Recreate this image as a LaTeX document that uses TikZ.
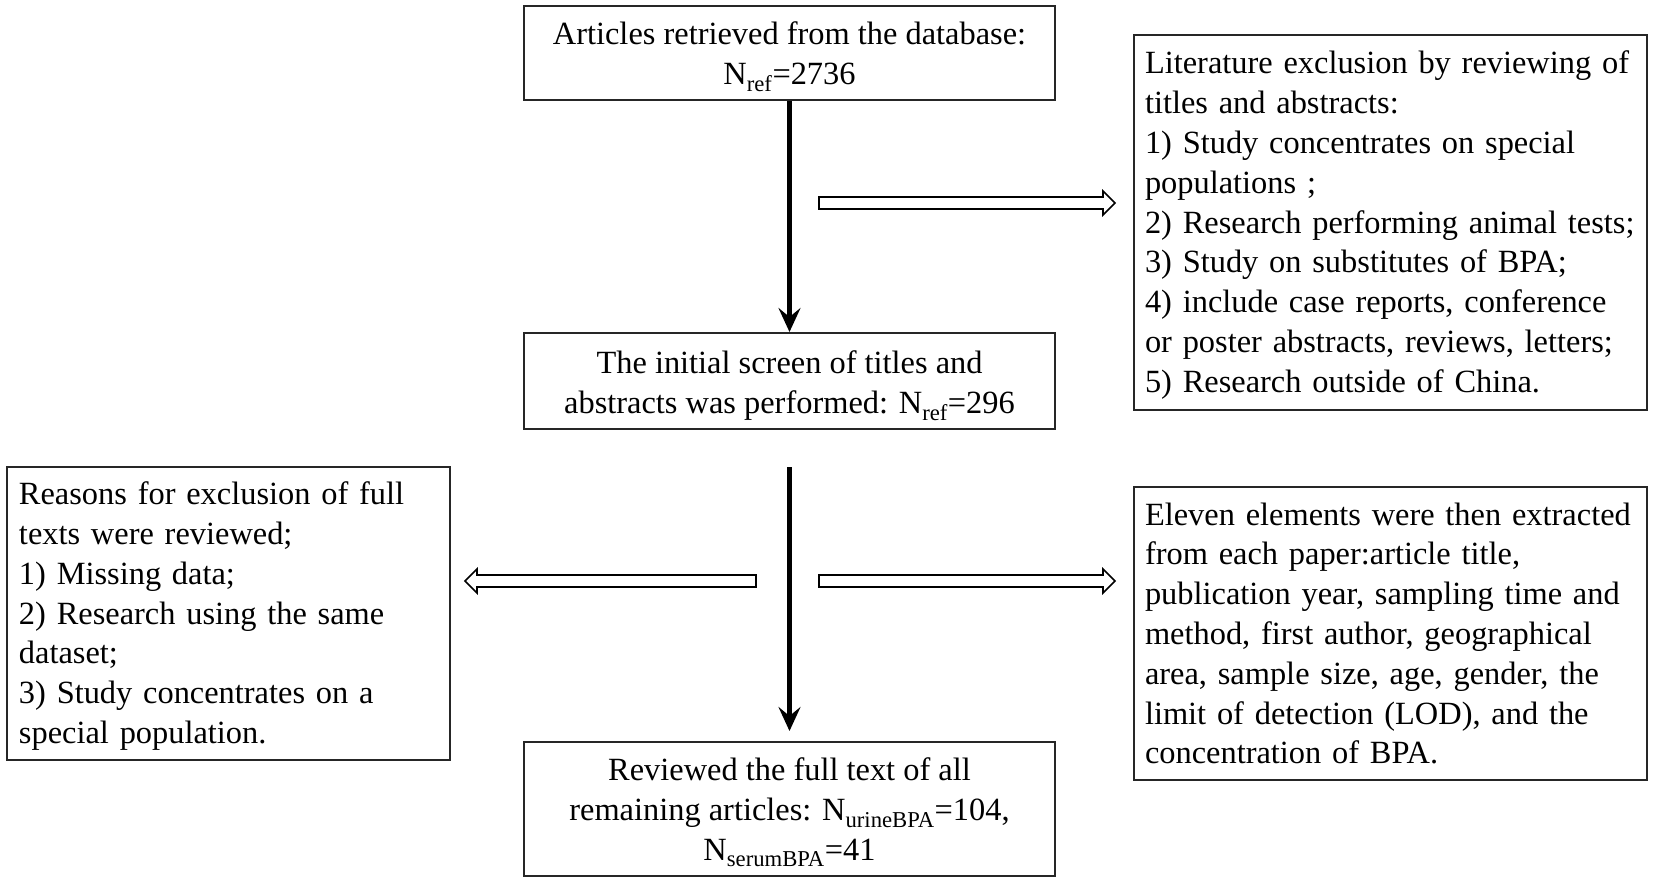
\documentclass[tikz,border=0pt]{standalone}
\usepackage{fontspec}
\setmainfont{Liberation Serif}
\usetikzlibrary{arrows.meta,calc}
\newcommand\hollowarrow[3]{%
  \draw[hollow] ($(#1)+(0,6)$) -- ($(#2)+({-12*(#3)},6)$) -- ($(#2)+({-12*(#3)},12)$) -- (#2)
    -- ($(#2)+({-12*(#3)},-12)$) -- ($(#2)+({-12*(#3)},-6)$) -- ($(#1)+(0,-6)$) -- cycle;}
\newcommand\oneline[1]{\mbox{#1}}
\newcommand\tstrut[1]{\rule{0pt}{#1}}
\begin{document}
\begin{tikzpicture}[x=1pt,y=-1pt,
  box/.style={draw=black!85, line width=2pt, rectangle, inner sep=0pt,
    font=\fontsize{32.4}{39.8}\selectfont},
  cbox/.style={box, align=center},
  lbox/.style={box, align=left},
  blackarrow/.style={line width=5pt, -{Stealth[length=24pt,width=22pt,inset=9pt]}},
  hollow/.style={draw=black, line width=1.6pt, fill=white, line join=miter}]
\useasboundingbox[fill=white] (0,0) rectangle (1654,883);

\node[cbox, minimum width=531pt, minimum height=93pt] (retr) at (789.5,53)
  {\tstrut{31pt}Articles retrieved from the database:\\ N\textsubscript{ref}=2736};
\node[cbox, minimum width=531pt, minimum height=96pt] (init) at (789.5,381)
  {\tstrut{32pt}The initial screen of titles and\\ abstracts was performed: N\textsubscript{ref}=296};
\node[lbox, text width=491pt, minimum width=513pt, minimum height=375pt] (excla) at (1390.5,222.5)
  {\oneline{\tstrut{28pt}Literature exclusion by reviewing of}\\
   \oneline{titles and abstracts:}\\
   \oneline{1) Study concentrates on special}\\
   \oneline{populations ;}\\
   \oneline{2) Research performing animal tests;}\\
   \oneline{3) Study on substitutes of BPA;}\\
   \oneline{4) include case reports, conference}\\
   \oneline{or poster abstracts, reviews, letters;}\\
   \oneline{5) Research outside of China.}};
\node[lbox, text width=419pt, minimum width=443pt, minimum height=293pt] (exclb) at (228.5,613.5)
  {\oneline{\tstrut{28pt}Reasons for exclusion of full}\\
   \oneline{texts were reviewed;}\\
   \oneline{1) Missing data;}\\
   \oneline{2) Research using the same}\\
   \oneline{dataset;}\\
   \oneline{3) Study concentrates on a}\\
   \oneline{special population.}};
\node[lbox, text width=491pt, minimum width=513pt, minimum height=293pt] (extr) at (1390.5,633.5)
  {\oneline{Eleven elements were then extracted}\\
   \oneline{from each paper:article title,}\\
   \oneline{publication year, sampling time and}\\
   \oneline{method, first author, geographical}\\
   \oneline{area, sample size, age, gender, the}\\
   \oneline{limit of detection (LOD), and the}\\
   \oneline{concentration of BPA.}};
\node[cbox, minimum width=531pt, minimum height=134pt] (full) at (789.5,809)
  {\tstrut{30pt}Reviewed the full text of all\\ remaining articles: N\textsubscript{urineBPA}=104,\\ N\textsubscript{serumBPA}=41};

\draw[blackarrow] (retr.south) -- (init.north);
\coordinate (s2) at (789.5,467);
\coordinate (e2) at (789.5,731);
\draw[blackarrow] (s2) -- (e2);

\coordinate (h1a) at (819,203); \coordinate (h1b) at (1115,203);
\coordinate (h2a) at (819,581); \coordinate (h2b) at (1115,581);
\coordinate (h3a) at (756,581); \coordinate (h3b) at (465,581);
\hollowarrow{h1a}{h1b}{1}
\hollowarrow{h2a}{h2b}{1}
\hollowarrow{h3a}{h3b}{-1}
\end{tikzpicture}
\end{document}
